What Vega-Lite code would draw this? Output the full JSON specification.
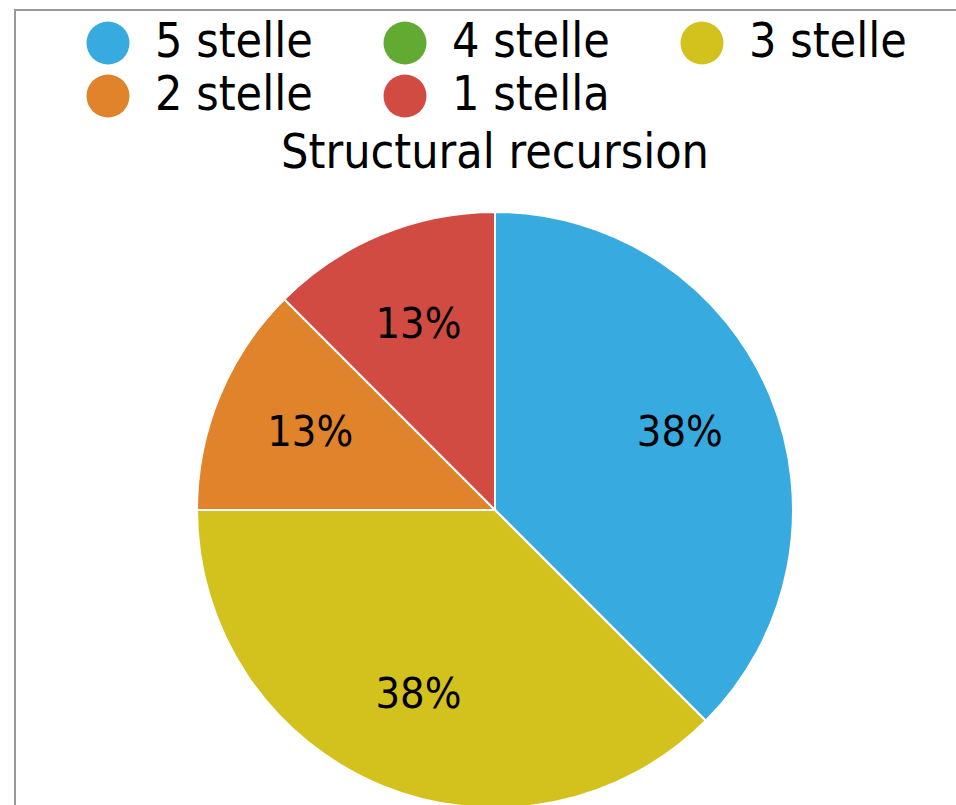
{
  "$schema": "https://vega.github.io/schema/vega-lite/v6.json",
  "width": 960,
  "height": 1000,
  "autosize": {"type": "none"},
  "padding": {"left": 15, "top": 10, "right": 0, "bottom": 0},
  "background": "white",
  "view": {"stroke": "#999999", "strokeWidth": 2, "fill": "white"},
  "title": {
    "text": "Structural recursion",
    "fontSize": 48,
    "font": "DejaVu Sans Condensed, Liberation Sans Narrow, DejaVu Sans",
    "fontWeight": "normal",
    "color": "black",
    "offset": -168,
    "anchor": "middle",
    "frame": "group"
  },
  "data": {
    "values": [
      {"stelle": "5 stelle", "share": 0.375},
      {"stelle": "4 stelle", "share": 0},
      {"stelle": "3 stelle", "share": 0.375},
      {"stelle": "2 stelle", "share": 0.125},
      {"stelle": "1 stella", "share": 0.125}
    ]
  },
  "encoding": {
    "theta": {"field": "share", "type": "quantitative", "stack": true},
    "order": {"field": "stelle", "sort": "descending"}
  },
  "layer": [
    {
      "mark": {"type": "arc", "outerRadius": 298, "stroke": "white", "strokeWidth": 2},
      "encoding": {
        "color": {
          "field": "stelle",
          "type": "nominal",
          "scale": {
            "domain": ["5 stelle", "4 stelle", "3 stelle", "2 stelle", "1 stella"],
            "range": ["#37aae0", "#63aa33", "#d3c11d", "#e0832b", "#d24b42"]
          },
          "legend": {
            "orient": "none",
            "legendX": 69,
            "legendY": 9,
            "direction": "horizontal",
            "columns": 3,
            "title": null,
            "symbolType": "circle",
            "symbolSize": 1849,
            "symbolStrokeWidth": 0,
            "symbolOpacity": 1,
            "labelFontSize": 48,
            "labelFont": "DejaVu Sans Condensed, Liberation Sans Narrow, DejaVu Sans",
            "labelColor": "black",
            "labelOffset": 23,
            "labelLimit": 400,
            "columnPadding": 68,
            "rowPadding": 5,
            "padding": 0
          }
        }
      }
    },
    {
      "transform": [{"filter": "datum.share > 0"}],
      "mark": {
        "type": "text",
        "radius": 200,
        "fontSize": 43,
        "font": "DejaVu Sans Condensed, Liberation Sans Narrow, DejaVu Sans",
        "color": "black",
        "align": "center",
        "baseline": "middle"
      },
      "encoding": {
        "text": {"field": "share", "type": "quantitative", "format": ".0%"}
      }
    }
  ],
  "config": {
    "view": {"stroke": "#999999", "strokeWidth": 2}
  }
}
